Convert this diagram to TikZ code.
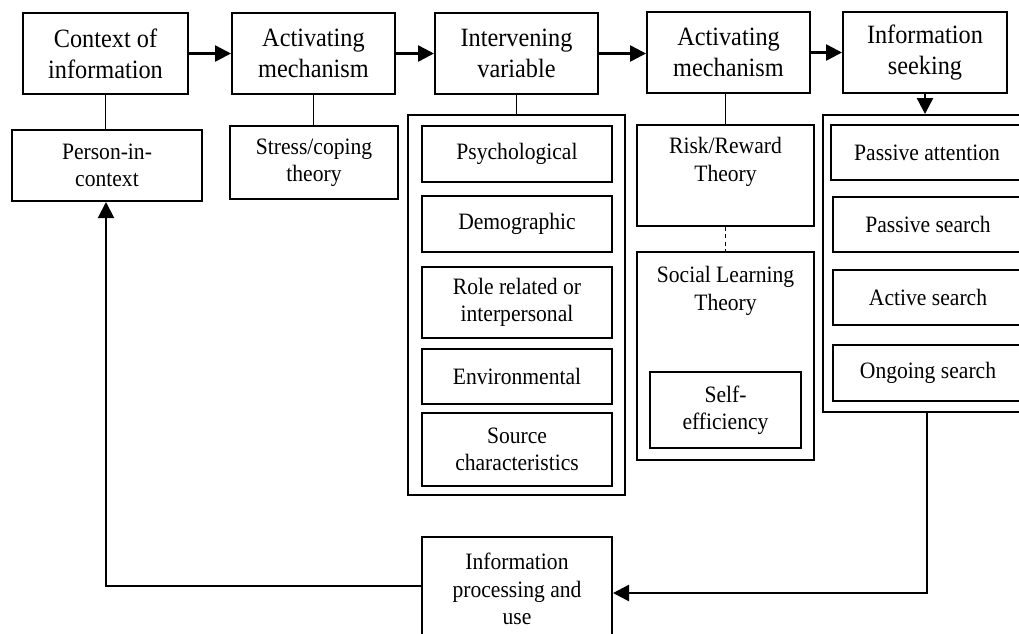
\documentclass[tikz,border=0pt]{standalone}
\usepackage{fontspec}
\setmainfont[FakeStretch=0.92]{Liberation Serif}
\usetikzlibrary{arrows.meta}
\begin{document}
\begin{tikzpicture}[x=0.75pt,y=-0.75pt,
  sz/.style 2 args={minimum width=#1*0.75pt,minimum height=#2*0.75pt},
  box/.style={draw,line width=1.5pt,inner sep=0pt,align=center},
  topbox/.style={box,font=\fontsize{19.8}{23.2}\selectfont},
  smallbox/.style={box,font=\fontsize{17.6}{20.5}\selectfont},
  frame/.style={draw,line width=1.5pt,inner sep=0pt},
  lbl/.style={align=center,inner sep=0pt,font=\fontsize{17.6}{20.5}\selectfont},
  link/.style={line width=0.8pt},
  tip/.style={-{Triangle[length=12pt,width=12pt]}},
  flow/.style={line width=1.9pt,tip},
  back/.style={line width=1.5pt,tip},
  dashlink/.style={line width=0.8pt,dash pattern=on 3pt off 2.5pt}]
\useasboundingbox (0,0) rectangle (1019,633);
\clip (0,0) rectangle (1019,633);
% top row
\node[topbox,sz={165}{81}] (ctx)  at (105.5,53.5) {Context of\\information};
\node[topbox,sz={163}{81}] (act1) at (313.5,53.5) {Activating\\mechanism};
\node[topbox,sz={163}{81}] (intv) at (516.5,53.5) {Intervening\\variable};
\node[topbox,sz={163}{81}] (act2) at (728.5,52.5) {Activating\\mechanism};
\node[topbox,sz={164}{81}] (seek) at (925,52.5) {Information\\seeking};
% second row
\node[smallbox,sz={190}{71}] (person) at (107,165.5) {Person-in-\\context};
\node[smallbox,sz={168}{73}] (stress) at (314,162.5) {Stress/coping\\theory};
% intervening variables
\node[frame,sz={217}{380}] (intvout) at (516.5,305) {};
\node[smallbox,sz={190}{56}] (psych) at (517,154) {Psychological};
\node[smallbox,sz={190}{56}] (demo) at (517,224) {Demographic};
\node[smallbox,sz={190}{71}] (role) at (517,302.5) {Role related or\\interpersonal};
\node[smallbox,sz={190}{55}] (env) at (517,376.5) {Environmental};
\node[smallbox,sz={190}{73}] (source) at (517,449.5) {Source\\characteristics};
% activating mechanism 2
\node[frame,sz={177}{101}] (risk) at (725.5,175.5) {};
\node[lbl] (riskT) at (725.5,162) {Risk/Reward\\Theory};
\node[frame,sz={177}{208}] (social) at (725.5,356) {};
\node[lbl] (socialT) at (725.5,291) {Social Learning\\Theory};
\node[smallbox,sz={151}{76}] (self) at (725.5,410) {Self-\\efficiency};
% information seeking
\node[frame,sz={206}{297}] (seekout) at (926,263.5) {};
\node[smallbox,sz={192}{55}] (pattn) at (927,152.5) {Passive attention};
\node[smallbox,sz={190}{55}] (psearch) at (928,224.5) {Passive search};
\node[smallbox,sz={190}{55}] (asearch) at (928,297.5) {Active search};
\node[smallbox,sz={190}{56}] (ongoing) at (928,373) {Ongoing search};
% processing
\node[smallbox,sz={190}{104}] (proc) at (517,589) {Information\\processing and\\use};
% flow arrows
\draw[flow] (ctx.east) -- (act1.west);
\draw[flow] (act1.east) -- (intv.west);
\draw[flow] (intv.east) -- (act2.west |- intv.east);
\draw[flow] (act2.east) -- (seek.west);
\draw[flow] (seek.south) -- (seek.south |- seekout.north);
% links
\draw[link] (person.north -| ctx.south) -- (ctx.south);
\draw[link] (stress.north -| act1.south) -- (act1.south);
\draw[link] (intv.south) -- (intvout.north);
\draw[link] (risk.north) -- (risk.north |- act2.south);
\draw[dashlink] (risk.south) -- (social.north);
% feedback loop
\coordinate (fl) at (106,586);
\coordinate (fr) at (927,593);
\draw[back] (proc.west |- fl) -- (fl) -- (person.south -| fl);
\draw[flow] (seekout.south -| fr) -- (fr) -- (proc.east |- fr);
\end{tikzpicture}
\end{document}
